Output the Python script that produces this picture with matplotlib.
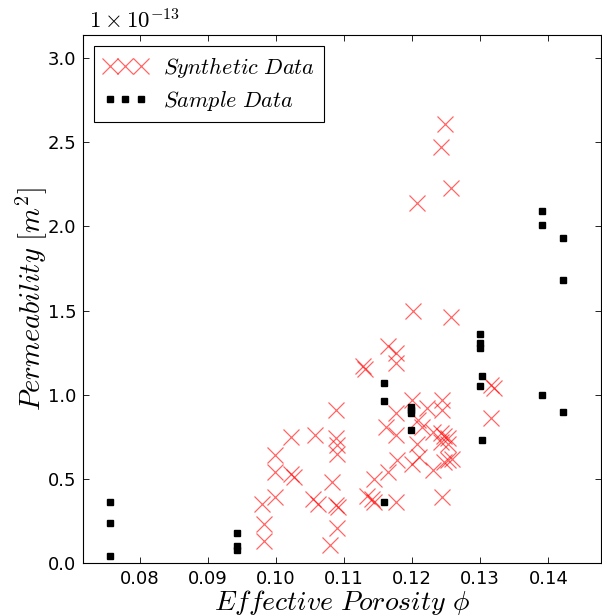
import numpy as np
import matplotlib
matplotlib.use("Agg")
import matplotlib.pyplot as plt
from matplotlib.ticker import FuncFormatter

plt.rcParams["mathtext.fontset"] = "cm"
plt.rcParams["font.family"] = ["DejaVu Sans"]

# Measured core samples: effective porosity and permeability (x 1e-13 m^2)
sample_phi = [0.0756, 0.0756, 0.0756,
              0.0943, 0.0943, 0.0943,
              0.1159, 0.1159, 0.1159,
              0.1198, 0.1198, 0.1198, 0.1198,
              0.1299, 0.1299, 0.1299, 0.1303, 0.1299, 0.1302,
              0.1391, 0.1391, 0.1391,
              0.1422, 0.1422, 0.1422]
sample_k = [0.36, 0.24, 0.04,
            0.18, 0.10, 0.08,
            1.07, 0.96, 0.36,
            0.93, 0.91, 0.89, 0.79,
            1.36, 1.31, 1.28, 1.11, 1.05, 0.73,
            2.09, 2.01, 1.00,
            1.93, 1.68, 0.90]

# Synthetic realisations
synth_phi = [0.1248, 0.1243, 0.1257, 0.1207, 0.1201, 0.1257,
             0.1164, 0.1176, 0.1177, 0.1128, 0.1131,
             0.1316, 0.1320, 0.1316,
             0.1200, 0.1176, 0.1162, 0.1177, 0.1222, 0.1244, 0.1244,
             0.1208, 0.1215, 0.1230, 0.1242, 0.1247, 0.1252,
             0.1207, 0.1178, 0.1200, 0.1210, 0.1230,
             0.1247, 0.1252, 0.1259, 0.1244,
             0.1164, 0.1144, 0.1134, 0.1141, 0.1144, 0.1176,
             0.1242, 0.1252,
             0.0980, 0.0982, 0.0982, 0.0999, 0.0999, 0.0999,
             0.1022, 0.1022, 0.1026, 0.1057, 0.1055, 0.1062,
             0.1088, 0.1088, 0.1090, 0.1090, 0.1082, 0.1089, 0.1091,
             0.1090, 0.1080]
synth_k = [2.61, 2.47, 2.23, 2.14, 1.50, 1.46,
           1.29, 1.25, 1.19, 1.17, 1.15,
           1.06, 1.04, 0.86,
           0.97, 0.89, 0.81, 0.76, 0.92, 0.97, 0.91,
           0.85, 0.81, 0.78, 0.77, 0.755, 0.74,
           0.71, 0.61, 0.59, 0.63, 0.55,
           0.60, 0.61, 0.62, 0.39,
           0.54, 0.50, 0.40, 0.38, 0.36, 0.36,
           0.72, 0.71,
           0.35, 0.23, 0.13, 0.64, 0.54, 0.39,
           0.75, 0.53, 0.51, 0.76, 0.38, 0.35,
           0.91, 0.74, 0.70, 0.65, 0.48, 0.345, 0.335,
           0.21, 0.11]

scale = 1e-13

fig = plt.figure(figsize=(6.02, 6.16), dpi=100)
ax = fig.add_axes([0.138, 0.086, 0.86, 0.857])

ax.plot(np.array(synth_phi), np.array(synth_k) * scale, linestyle="none",
        marker="x", markersize=12, markeredgewidth=0.9, color="red",
        alpha=0.6, label=r"$Synthetic\ Data$")
ax.plot(np.array(sample_phi), np.array(sample_k) * scale, linestyle="none",
        marker="s", markersize=5, color="black",
        label=r"$Sample\ Data$")

ax.set_xlim(0.0717, 0.1477)
ax.set_ylim(0, 3.137e-13)
ax.set_xticks([0.08, 0.09, 0.10, 0.11, 0.12, 0.13, 0.14])
ax.set_yticks(np.arange(0, 3.01, 0.5) * scale)

# y tick labels in units of 1e-13, with the multiplier written above the axis
ax.yaxis.set_major_formatter(FuncFormatter(lambda v, p: f"{v / scale:.1f}"))
ax.text(0.012, 1.004, r"$1\times10^{-13}$", transform=ax.transAxes,
        fontsize=16.5, ha="left", va="bottom")

ax.tick_params(direction="in", length=4, width=0.6, top=True, right=True,
               labelsize=13, pad=5, colors="black")
for s in ax.spines.values():
    s.set_linewidth(0.8)

ax.set_xlabel(r"$Effective\ Porosity\ \phi$", fontsize=20, labelpad=0)
ax.set_ylabel(r"$Permeability\ [m^2]$", fontsize=20.5, labelpad=-2)

leg = ax.legend(loc="upper left", numpoints=3, fontsize=16, fancybox=False,
                edgecolor="black", framealpha=1, borderpad=0.4,
                labelspacing=0.4, handlelength=2.0, handletextpad=0.7,
                bbox_to_anchor=(0.0, 1.0), borderaxespad=0.5)
leg.get_frame().set_linewidth(0.8)

fig.savefig("out.png", dpi=100)
